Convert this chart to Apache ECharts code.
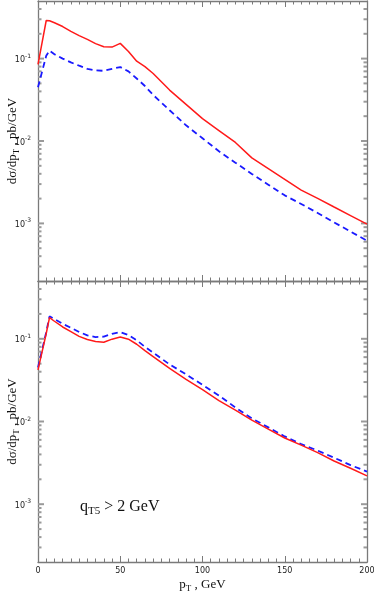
<!DOCTYPE html>
<html>
<head>
<meta charset="utf-8">
<script src="https://cdn.jsdelivr.net/npm/echarts@6/dist/echarts.min.js"></script>
<style>
  html, body { margin: 0; padding: 0; background: #fff; }
  #chart { width: 374px; height: 598px; }
</style>
</head>
<body>
<div id="chart"></div>
<script>
// pT grid, GeV
var pT = [0, 5, 7, 10, 15, 20, 25, 30, 35, 40, 45, 50, 55, 60, 65, 70, 80, 90, 100, 110, 120, 130, 140, 150, 160, 170, 180, 190, 200];

// upper panel
var topRed = [0.085, 0.29, 0.288, 0.272, 0.245, 0.214, 0.19, 0.171, 0.152, 0.139, 0.138, 0.153, 0.122, 0.093, 0.0798, 0.066, 0.0415, 0.0278, 0.0187, 0.0134, 0.0096, 0.00624, 0.00462, 0.00343, 0.00254, 0.00201, 0.00158, 0.001245, 0.00098];
var topBlue = [0.045, 0.108, 0.125, 0.113, 0.1, 0.09, 0.082, 0.075, 0.072, 0.071, 0.075, 0.079, 0.07, 0.0574, 0.0465, 0.0362, 0.0236, 0.0155, 0.0108, 0.0075, 0.00546, 0.00398, 0.00295, 0.00219, 0.00172, 0.00134, 0.00103, 0.000796, 0.000617];

// lower panel (qT5 > 2 GeV)
var botRed = [0.042, 0.116, 0.18, 0.163, 0.139, 0.122, 0.107, 0.098, 0.093, 0.091, 0.099, 0.105, 0.099, 0.0859, 0.072, 0.061, 0.0438, 0.0324, 0.0243, 0.0179, 0.0137, 0.0104, 0.0081, 0.00632, 0.00518, 0.0042, 0.00333, 0.00272, 0.0022];
var botBlue = [0.045, 0.12, 0.187, 0.173, 0.152, 0.136, 0.121, 0.11, 0.105, 0.106, 0.115, 0.12, 0.111, 0.096, 0.08, 0.068, 0.049, 0.0372, 0.0277, 0.0206, 0.0148, 0.0109, 0.0085, 0.0066, 0.00532, 0.00445, 0.00365, 0.00297, 0.00248];

var xTicks = [0, 50, 100, 150, 200];
var yMin = 2e-4, yMax = 0.5;

function pairs(ys) {
  return pT.map(function (x, i) { return [x, ys[i]]; });
}

var axisGray = '#7a7a7a';
var serif = 'Liberation Serif';

// log ticks 1..9 x 10^n on left and right frame edges, drawn as thin rect symbols
var logTicks = [];
for (var e = -4; e <= 0; e++) {
  for (var k = 1; k <= 9; k++) {
    var v = k * Math.pow(10, e);
    if (v > yMin * 1.001 && v < yMax * 0.999) {
      var len = k === 1 ? 6 : 3.5;
      logTicks.push({ value: [0, v], symbolSize: [len, 2], symbolOffset: [len / 2, 0] });
      logTicks.push({ value: [200, v], symbolSize: [len, 2], symbolOffset: [-len / 2, 0] });
    }
  }
}

var chart = echarts.init(document.getElementById('chart'));

function xAx(grid, pos, labels) {
  return {
    type: 'value', gridIndex: grid, position: pos, min: 0, max: 200, interval: 50,
    axisLine: { show: true, onZero: false, lineStyle: { color: axisGray, width: 1.3 } },
    axisTick: { show: true, inside: true, length: 6, lineStyle: { color: axisGray, width: 1 } },
    minorTick: { show: true, splitNumber: 10, length: 3.5, lineStyle: { color: axisGray, width: 1 } },
    splitLine: { show: false },
    axisLabel: {
      show: labels, margin: 5, color: '#222', fontFamily: 'DejaVu Sans', fontSize: 8,
      formatter: function (v) { return xTicks.indexOf(v) >= 0 ? String(v) : ''; }
    }
  };
}

function yAx(grid, pos, labels) {
  return {
    type: 'log', logBase: 10, gridIndex: grid, position: pos, min: yMin, max: yMax,
    axisLine: { show: true, onZero: false, lineStyle: { color: axisGray, width: 1.3 } },
    axisTick: { show: false },
    splitLine: { show: false },
    axisLabel: {
      show: labels, margin: 7, color: '#222',
      formatter: function (v) {
        var l = Math.log10(v);
        if (Math.abs(l - Math.round(l)) > 1e-6) return '';
        return '{b|10}{s|' + Math.round(l) + '}';
      },
      rich: {
        b: { fontFamily: 'DejaVu Sans', fontSize: 8, lineHeight: 11, verticalAlign: 'bottom', color: '#222' },
        s: { fontFamily: 'DejaVu Sans', fontSize: 6, lineHeight: 7, verticalAlign: 'top', color: '#222' }
      }
    }
  };
}

var nameRich = {
  a: { fontFamily: serif, fontSize: 13, lineHeight: 16, color: '#111' },
  sub: { fontFamily: serif, fontSize: 9, lineHeight: 9, verticalAlign: 'bottom', color: '#111' }
};

var yName = '{a|dσ/dp}{sub|T}{a| , pb/GeV}';

function withName(ax, name, gap, rotate) {
  ax.name = name;
  ax.nameLocation = 'middle';
  ax.nameGap = gap;
  if (rotate) ax.nameRotate = 90;
  ax.nameMoveOverlap = false;
  ax.nameTextStyle = { rich: nameRich };
  return ax;
}

function tickSeries(xi, yi) {
  return {
    type: 'scatter', xAxisIndex: xi, yAxisIndex: yi,
    symbol: 'rect', data: logTicks,
    itemStyle: { color: '#9a9a9a', opacity: 1 }
  };
}

function lineSeries(xi, yi, ys, color, dashed) {
  return {
    type: 'line', xAxisIndex: xi, yAxisIndex: yi, data: pairs(ys),
    showSymbol: false, smooth: false,
    lineStyle: { color: color, width: dashed ? 1.8 : 1.5, type: dashed ? [6, 4] : 'solid' }
  };
}

chart.setOption({
  animation: false,
  grid: [
    { left: 38, right: 7, top: 1, height: 280, outerBoundsMode: 'none' },
    { left: 38, right: 7, top: 281, height: 281, outerBoundsMode: 'none' }
  ],
  xAxis: [
    xAx(0, 'bottom', false),
    xAx(0, 'top', false),
    withName(xAx(1, 'bottom', true), '{a|p}{sub|T}{a| , GeV}', 15, false),
    xAx(1, 'top', false)
  ],
  yAxis: [
    withName(yAx(0, 'left', true), yName, 17, true),
    yAx(0, 'right', false),
    withName(yAx(1, 'left', true), yName, 17, true),
    yAx(1, 'right', false)
  ],
  graphic: [{
    type: 'text', left: 80, top: 499,
    style: {
      text: '{a|q}{sub|T5}{a| > 2 GeV}',
      rich: {
        a: { fontFamily: serif, fontSize: 16, lineHeight: 19, fill: '#111' },
        sub: { fontFamily: serif, fontSize: 11, lineHeight: 11, verticalAlign: 'bottom', fill: '#111' }
      }
    }
  }],
  series: [
    lineSeries(0, 0, topRed, '#ff1a1a', false),
    lineSeries(0, 0, topBlue, '#1a1aff', true),
    lineSeries(2, 2, botBlue, '#1a1aff', true),
    lineSeries(2, 2, botRed, '#ff1a1a', false),
    tickSeries(0, 0),
    tickSeries(2, 2)
  ]
});
</script>
</body>
</html>
